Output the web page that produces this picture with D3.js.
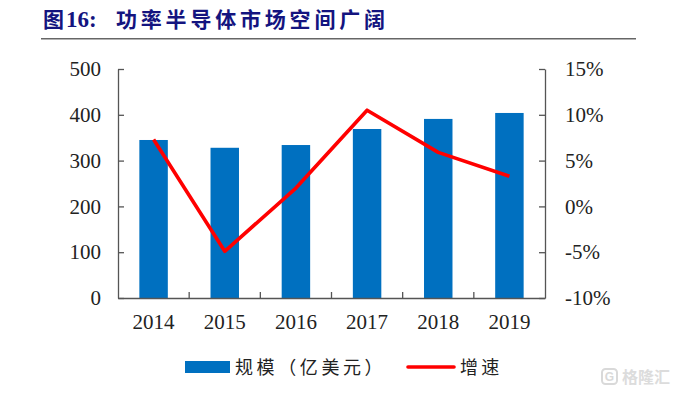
<!DOCTYPE html>
<html><head><meta charset="utf-8">
<script src="https://cdn.jsdelivr.net/npm/d3@7"></script>
<style>html,body{margin:0;padding:0;background:#fff}svg{display:block}</style>
</head><body><svg id="c" width="676" height="395"></svg>
<script>
const categories = ["2014","2015","2016","2017","2018","2019"];
const scaleValues = [345,328,334,369,391,404];
const growthValues = [7.3,-4.9,2.0,10.5,5.9,3.3];
const leftTicks = [0,100,200,300,400,500];
const rightTicks = [-10,-5,0,5,10,15];
const barName = "规模（亿美元）";
const lineName = "增速";

const svg = d3.select("#c");
const serif = "'Liberation Serif',serif";
const cjk = "'Noto Sans CJK SC',sans-serif";
const x = d3.scaleBand().domain(categories).range([118,545]).paddingInner(0.6).paddingOuter(0.3);
const y = d3.scaleLinear().domain([0,500]).range([298,69]);
const y2 = d3.scaleLinear().domain([-10,15]).range([298,69]);
const cx = d => x(d)+x.bandwidth()/2;

// title
const t = svg.append("text").attr("y",27).attr("fill","#14147f").attr("font-weight",700);
t.append("tspan").attr("x",43).attr("font-family",cjk).attr("font-size",21).text("图");
t.append("tspan").attr("x",66).attr("font-family",serif).attr("font-size",23).text("16:");
t.append("tspan").attr("x",116).attr("font-family",cjk).attr("font-size",21).attr("letter-spacing",3.8).text("功率半导体市场空间广阔");
svg.append("rect").attr("x",41).attr("y",38).attr("width",595).attr("height",1.5).attr("fill","#666");

// bars
svg.selectAll("rect.b").data(categories).join("rect").attr("class","b")
  .attr("x",d=>x(d)).attr("width",x.bandwidth())
  .attr("y",(d,i)=>y(scaleValues[i])).attr("height",(d,i)=>y(0)-y(scaleValues[i]))
  .attr("fill","#0070c0");

// axes
const style = g=>{g.selectAll("path,line").attr("stroke","#555").attr("stroke-width",1.3);
  g.selectAll("text").attr("font-family",serif).attr("font-size",21).attr("fill","#222");};
svg.append("g").attr("transform","translate(118,0)")
  .call(d3.axisLeft(y).tickValues(leftTicks).tickSize(-6).tickSizeOuter(0).tickPadding(17)).call(style);
svg.append("g").attr("transform","translate(545,0)")
  .call(d3.axisRight(y2).tickValues(rightTicks).tickFormat(d=>d+"%").tickSize(-6).tickSizeOuter(0).tickPadding(20)).call(style);
const bx = d3.axisBottom(x).tickFormat("").tickSize(0).tickSizeOuter(0);
svg.append("g").attr("transform","translate(0,298)").call(bx).call(style);
const step = x.step();
svg.append("g").selectAll("line").data(categories.slice(1)).join("line")
  .attr("x1",d=>x(d)-(step-x.bandwidth())/2).attr("x2",d=>x(d)-(step-x.bandwidth())/2)
  .attr("y1",298).attr("y2",292).attr("stroke","#555").attr("stroke-width",1.3);
svg.append("g").selectAll("text").data(categories).join("text")
  .attr("x",cx).attr("y",329).attr("text-anchor","middle")
  .attr("font-family",serif).attr("font-size",21).attr("fill","#222").text(d=>d);

// line
const line = d3.line().x((d,i)=>cx(categories[i])).y(d=>y2(d));
svg.append("path").datum(growthValues).attr("d",line).attr("fill","none")
  .attr("stroke","#ff0000").attr("stroke-width",3.6).attr("stroke-linejoin","round");

// legend
svg.append("rect").attr("x",185).attr("y",361).attr("width",45).attr("height",12).attr("fill","#0070c0");
svg.append("text").attr("x",235).attr("y",374).attr("font-family",cjk).attr("font-size",18).attr("letter-spacing",3.6).attr("fill","#222").text(barName);
svg.append("line").attr("x1",408).attr("x2",454).attr("y1",367).attr("y2",367).attr("stroke","#ff0000").attr("stroke-width",3.6).attr("stroke-linecap","round");
svg.append("text").attr("x",460).attr("y",374).attr("font-family",cjk).attr("font-size",18).attr("letter-spacing",3.2).attr("fill","#222").text(lineName);

// watermark
svg.append("rect").attr("x",602).attr("y",369).attr("width",15).attr("height",15).attr("rx",3.5).attr("fill","none").attr("stroke","#d9d9d9").attr("stroke-width",2);
svg.append("text").attr("x",609.5).attr("y",381).attr("text-anchor","middle").attr("font-family","'Liberation Sans',sans-serif").attr("font-size",12).attr("font-weight",700).attr("fill","#d9d9d9").text("G");
svg.append("text").attr("x",622).attr("y",383).attr("font-family",cjk).attr("font-size",16).attr("font-weight",700).attr("fill","#dcdcdc").text("格隆汇");
</script></body></html>
